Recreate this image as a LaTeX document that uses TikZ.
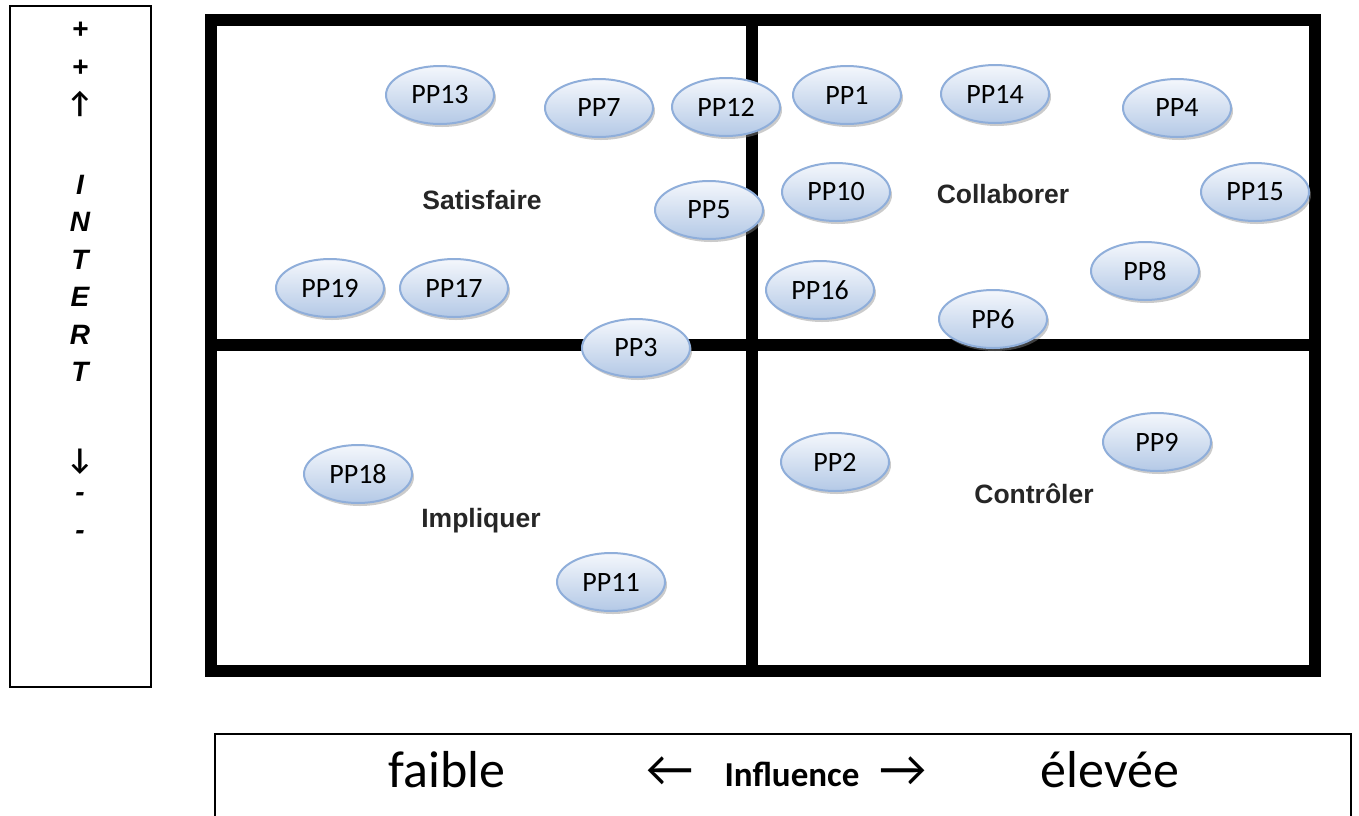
\documentclass[tikz,border=0pt]{standalone}
\usepackage{fontspec}
\setmainfont{Carlito}
\newfontfamily\arialf{Liberation Sans}
\newfontfamily\djv{DejaVu Sans}
\usetikzlibrary{shapes.geometric,shadows}
\definecolor{ppborder}{HTML}{8FAEDA}
\definecolor{ppfill}{HTML}{B4C9E6}
\definecolor{pptop}{HTML}{F4F7FC}
\tikzset{
  pp/.style={ellipse, minimum width=108pt, minimum height=58pt, inner sep=0pt,
    draw=ppborder, line width=2pt, top color=pptop, bottom color=ppfill,
    drop shadow={shadow xshift=2pt, shadow yshift=-3pt, fill=black!45, opacity=0.45},
    font=\fontsize{28}{28}\selectfont},
  quad/.style={font=\arialf\bfseries\fontsize{26.5}{26.5}\selectfont, text=black!85},
  side/.style={font=\arialf\bfseries\itshape\fontsize{28}{28}\selectfont},
  sidearrow/.style={font=\bfseries\fontsize{30}{30}\selectfont},
  botarrow/.style={anchor=base, font=\fontsize{52}{52}\selectfont},
  grid/.style={line width=11.7pt, line join=miter},
  frame/.style={line width=2pt}
}
\begin{document}
\begin{tikzpicture}[x=1pt,y=-1pt]
\clip (0,0) rectangle (1359,815);
\fill[white] (0,0) rectangle (1359,815);
% left box
\draw[frame] (10,6) rectangle (151,687);
\node[side] (p1) at (80,30) {+};
\node[side] (p2) at (80,68) {+};
\node[sidearrow] (up) at (80,104) {↑};
\node[side] (lI) at (80,185) {I};
\node[side] (lN) at (80,222) {N};
\node[side] (lT) at (80,260) {T};
\node[side] (lE) at (80,297) {E};
\node[side] (lR) at (80,335) {R};
\node[side] (lT2) at (80,372) {T};
\node[sidearrow] (down) at (80,462) {↓};
\node[side] (m1) at (80,497) {-};
\node[side] (m2) at (80,535) {-};
% grid
\draw[grid] (211,20) rectangle (1315,671);
\draw[grid] (752,20) -- (752,671);
\draw[grid] (211,345) -- (1315,345);
% quadrant labels
\node[quad] (sat) at (482,200) {Satisfaire};
\node[quad] (col) at (1003,194) {Collaborer};
\node[quad] (imp) at (481,521) {Impliquer};
\node[quad] (con) at (1034,494) {Contrôler};
% ellipses
\node[pp] (PP13) at (440,95) {PP13};
\node[pp] (PP7) at (599,108) {PP7};
\node[pp] (PP12) at (726,107) {PP12};
\node[pp] (PP1) at (847,95) {PP1};
\node[pp] (PP14) at (995,94) {PP14};
\node[pp] (PP4) at (1177,108) {PP4};
\node[pp] (PP15) at (1255,192) {PP15};
\node[pp] (PP10) at (836,192) {PP10};
\node[pp] (PP5) at (709,210) {PP5};
\node[pp] (PP16) at (820,290) {PP16};
\node[pp] (PP8) at (1145,271) {PP8};
\node[pp] (PP6) at (993,319) {PP6};
\node[pp] (PP19) at (330,288) {PP19};
\node[pp] (PP17) at (454,288) {PP17};
\node[pp] (PP3) at (636,348) {PP3};
\node[pp] (PP18) at (358,474) {PP18};
\node[pp] (PP11) at (611,582) {PP11};
\node[pp] (PP2) at (835,462) {PP2};
\node[pp] (PP9) at (1157,442) {PP9};
% bottom box
\draw[frame] (214.5,733.5) rectangle (1350.5,840);
\node[anchor=base, font=\fontsize{52}{52}\selectfont] (faible) at (447,787) {faible};
\node[botarrow] (la) at (670,786) {←};
\node[anchor=base, font=\bfseries\fontsize{35}{35}\selectfont] (infl) at (792,786) {Influence};
\node[botarrow] (ra) at (903,786) {→};
\node[anchor=base, font=\fontsize{52}{52}\selectfont] (elevee) at (1110,787) {élevée};
\end{tikzpicture}
\end{document}
